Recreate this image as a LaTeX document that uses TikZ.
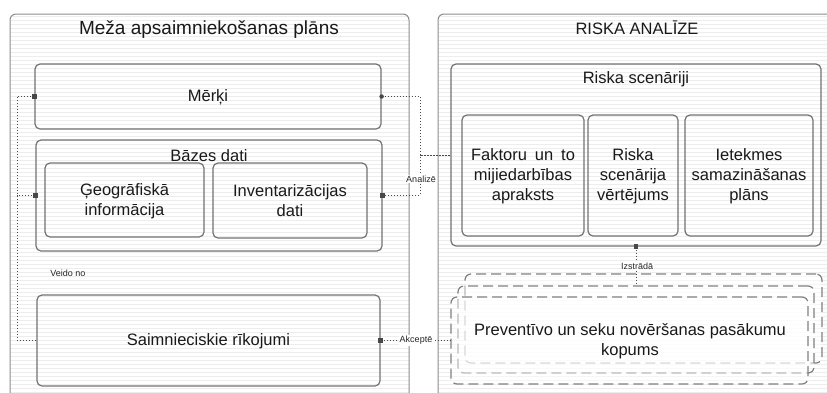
\documentclass[tikz,border=0pt]{standalone}
\usepackage{fontspec}
\setmainfont{Liberation Sans}
\begin{document}
\begin{tikzpicture}[x=1pt,y=-1pt,
  stripe/.style={draw=black!7,line width=0.6pt},
  panel/.style={draw=black!45,line width=1pt,rounded corners=6pt},
  box/.style={draw=black!55,line width=1.2pt,rounded corners=5pt,inner sep=0pt},
  dbox/.style={draw=black!50,line width=1.2pt,rounded corners=6pt,inner sep=0pt,
    dash pattern=on 10pt off 5pt,fill=white,fill opacity=0.45},
  txt/.style={font=\fontsize{16.5}{20}\selectfont,text=black!90,align=center,inner sep=0pt},
  ttl/.style={font=\fontsize{19}{22}\selectfont,text=black!90,inner sep=0pt},
  small/.style={font=\fontsize{9}{10}\selectfont,text=black!85,inner sep=1pt},
  conn/.style={draw=black!70,line width=1pt,dash pattern=on 1pt off 2pt},
  connb/.style={draw=black!70,line width=1pt,dash pattern=on 2pt off 1pt},
  port/.style={rectangle,fill=black!72,minimum size=4.5pt,inner sep=0pt},
  portr/.style={circle,fill=black!72,minimum size=4.5pt,inner sep=0pt}]
\useasboundingbox (0,0) rectangle (827,392);
\clip (0,0) rectangle (827,392);
\fill[white] (0,0) rectangle (827,392);

% lined background of the two panels
\begin{scope}
  \clip[rounded corners=6pt] (10,14) rectangle (409,410);
  \foreach \y in {16,20,...,400} \draw[stripe] (10,\y) -- (409,\y);
\end{scope}
\begin{scope}
  \clip[rounded corners=6pt] (438,14) rectangle (840,410);
  \foreach \y in {16,20,...,400} \draw[stripe] (438,\y) -- (840,\y);
\end{scope}
\draw[panel] (10,14) rectangle (409,410);
\draw[panel] (438,14) rectangle (840,410);

\node[ttl] (ttlL) at (209,30) {Meža apsaimniekošanas plāns};
\node[txt] (ttlR) at (637,28) {RISKA ANALĪZE};

% forest management plan
\node[box,minimum width=346pt,minimum height=65pt] (merki) at (208,96.5) {};
\node[txt] (merkiT) at (208,97) {Mērķi};
\node[box,minimum width=346pt,minimum height=111pt] (bazes) at (209,195.5) {};
\node[txt] (bazesT) at (209,156) {Bāzes dati};
\node[box,minimum width=159pt,minimum height=74pt] (geo) at (124.5,200) {};
\node[txt] (geoT) at (124.5,201) {Ģeogrāfiskā\\informācija};
\node[box,minimum width=154pt,minimum height=75pt] (inv) at (290,200.5) {};
\node[txt] (invT) at (290,201) {Inventarizācijas\\dati};
\node[box,minimum width=343pt,minimum height=91pt] (saim) at (208.5,340.5) {};
\node[txt] (saimT) at (208.5,341) {Saimnieciskie rīkojumi};

% risk analysis
\node[box,minimum width=370pt,minimum height=182pt] (riska) at (636,155) {};
\node[txt] (riskaT) at (636,79) {Riska scenāriji};
\node[box,minimum width=122pt,minimum height=121pt] (fakt) at (523,175.5) {};
\node[txt] (faktT) at (523,176.5) {\makebox[104pt][s]{Faktoru un to}\\mijiedarbības\\apraksts};
\node[box,minimum width=90pt,minimum height=121pt] (vert) at (633,175.5) {};
\node[txt] (vertT) at (633,176.5) {Riska\\scenārija\\vērtējums};
\node[box,minimum width=128pt,minimum height=121pt] (iet) at (749,175.5) {};
\node[txt] (ietT) at (749,176.5) {Ietekmes\\samazināšanas\\plāns};

% stacked measures
\node[dbox,minimum width=357pt,minimum height=89pt] (b1) at (643.5,318.5) {};
\node[dbox,minimum width=356pt,minimum height=87pt] (b2) at (636,329.5) {};
\node[dbox,minimum width=357pt,minimum height=87pt] (b3) at (629.5,340.5) {};
\node[txt] (b3T) at (630,341.5) {Preventīvo un seku novēršanas pasākumu\\kopums};

% connectors
\coordinate (lbus) at (17,0);
\coordinate (rbus) at (420,0);
\draw[conn] (merki.west) -- (merki.west -| lbus) -- (saim.west -| lbus) -- (saim.west);
\draw[conn] (bazes.west) -- (bazes.west -| lbus);
\draw[conn] (merki.east) -- (merki.east -| rbus) -- (bazes.east -| rbus) -- (bazes.east);
\draw[connb] (riska.west) -- (riska.west -| rbus);
\draw[conn] (saim.east) -- (b3.west);
\draw[conn] (riska.south) -- (riska.south |- b2.north);

\node[port] (pm) at (merki.west) {};
\node[port] (pb) at (bazes.west) {};
\node[portr] (pr) at (merki.east) {};
\node[port] (pi) at (bazes.east) {};
\node[port] (ps) at (saim.east) {};
\node[port] (pz) at (riska.south) {};

\node[small] (lveido) at (68,273) {Veido no};
\node[small,fill=white] (lanal) at (421,179) {Analizē};
\node[small,fill=white] (lakc) at (416,340.5) {Akceptē};
\node[small,fill=white,inner sep=0.5pt] (lizst) at (637,266) {Izstrādā};
\end{tikzpicture}
\end{document}
